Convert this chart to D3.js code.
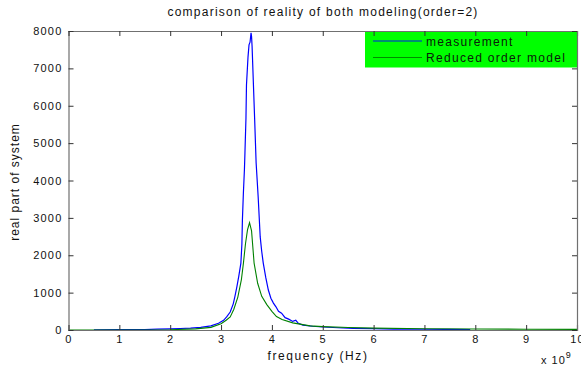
<!DOCTYPE html>
<html>
<head>
<meta charset="utf-8">
<script src="https://cdn.jsdelivr.net/npm/d3@7"></script>
<style>
  body { margin: 0; background: #fff; }
  text { font-family: "Liberation Sans", Arial, sans-serif; }
</style>
</head>
<body>
<div id="chart"></div>
<script>

// frequency in GHz (axis shows x 10^9)
var measFreq = [0.5, 1.0, 1.5, 1.75, 2.0, 2.2, 2.4, 2.6, 2.8, 2.95, 3.05, 3.11, 3.18, 3.24, 3.27, 3.31, 3.35, 3.39,
    3.41, 3.42, 3.44, 3.46, 3.47, 3.49, 3.50, 3.53, 3.55, 3.57, 3.59, 3.60, 3.61, 3.63, 3.66, 3.69, 3.73, 3.77,
    3.80, 3.83, 3.88, 3.93, 3.98, 4.03, 4.08, 4.13, 4.19, 4.22, 4.26, 4.33, 4.41, 4.47, 4.52, 4.61, 4.8, 5.0,
    5.3, 5.6, 6.0, 6.4, 7.0, 7.5, 7.9];
var measValue = [5, 8, 10, 25, 30, 40, 50, 70, 110, 180, 260, 350, 480, 700, 880, 1150, 1450, 1790,
    2300, 2940, 3690, 4300, 4740, 5670, 6555, 7300, 7630, 7700, 7950, 7850, 7600, 6820, 5670, 4470, 3560, 2490,
    2100, 1790, 1400, 1070, 850, 720, 620, 500, 450, 400, 330, 290, 230, 260, 180, 130, 100, 80,
    60, 45, 35, 25, 20, 15, 12];

var modelFreq = [0, 1, 2, 2.5, 2.8, 3.0, 3.1, 3.18, 3.25, 3.33, 3.40, 3.44, 3.48, 3.52, 3.56, 3.60, 3.65, 3.72,
    3.80, 3.90, 4.0, 4.09, 4.2, 4.41, 4.75, 5.0, 5.5, 6, 7, 8, 9, 10];
var modelValue = [0, 2, 8, 30, 70, 170, 260, 350, 550, 880, 1350, 1790, 2300, 2680, 2870, 2650, 1790, 1250,
    900, 680, 500, 360, 280, 190, 110, 90, 65, 50, 35, 28, 22, 18];

var xTicks = [0, 1, 2, 3, 4, 5, 6, 7, 8, 9, 10];
var yTicks = [0, 1000, 2000, 3000, 4000, 5000, 6000, 7000, 8000];
var legendNames = ['measurement', 'Reduced order model'];

var width = 581, height = 365;
var plotLeft = 68.5, plotRight = 577, plotTop = 31, plotBottom = 330;

var x = d3.scaleLinear().domain([0, 10]).range([plotLeft, plotRight]);
var y = d3.scaleLinear().domain([0, 8000]).range([plotBottom, plotTop]);

var svg = d3.select('#chart')
    .append('svg')
    .attr('width', width)
    .attr('height', height)
    .style('display', 'block');

svg.append('rect').attr('width', width).attr('height', height).attr('fill', '#fff');

svg.append('clipPath').attr('id', 'clip')
    .append('rect')
    .attr('x', plotLeft).attr('y', plotTop)
    .attr('width', plotRight - plotLeft).attr('height', plotBottom - plotTop);

var line = d3.line()
    .x((d) => x(d[0]))
    .y((d) => y(d[1]));

// legend box sits behind the curves, inside the axes
var legend = svg.append('g');
legend.append('rect')
    .attr('x', 365).attr('y', plotTop + 0.5)
    .attr('width', plotRight - 365).attr('height', 36)
    .attr('fill', '#00ff00');

var lines = svg.append('g').attr('clip-path', 'url(#clip)');

lines.append('path')
    .attr('d', line(d3.zip(measFreq, measValue)))
    .attr('fill', 'none')
    .attr('stroke', '#0000ff')
    .attr('stroke-width', 1.2);

lines.append('path')
    .attr('d', line(d3.zip(modelFreq, modelValue)))
    .attr('fill', 'none')
    .attr('stroke', '#008000')
    .attr('stroke-width', 1.1);

// axes, ticks point inward like matlab
var axisColor = '#707070';
var fontSize = '11px';

var xBottom = svg.append('g')
    .attr('transform', 'translate(0,' + plotBottom + ')')
    .call(d3.axisBottom(x).tickValues(xTicks).tickSize(-5).tickPadding(5).tickFormat(d3.format('d')));
var xTop = svg.append('g')
    .attr('transform', 'translate(0,' + plotTop + ')')
    .call(d3.axisTop(x).tickValues(xTicks).tickSize(-5).tickFormat(''));
var yLeft = svg.append('g')
    .attr('transform', 'translate(' + plotLeft + ',0)')
    .call(d3.axisLeft(y).tickValues(yTicks).tickSize(-5).tickPadding(6).tickFormat(d3.format('d')));
var yRight = svg.append('g')
    .attr('transform', 'translate(' + plotRight + ',0)')
    .call(d3.axisRight(y).tickValues(yTicks).tickSize(-5).tickFormat(''));

[xBottom, xTop, yLeft, yRight].forEach(function (g) {
    g.select('.domain').attr('stroke', axisColor).attr('stroke-width', 1.2);
    g.selectAll('.tick line').attr('stroke', '#333');
    g.selectAll('.tick text')
        .attr('fill', '#111')
        .style('font-size', fontSize)
        .style('letter-spacing', '1.2px')
        .style('font-family', '"Liberation Sans", Arial, sans-serif');
});

var legendColors = ['#0000ff', '#008000'];
legendNames.forEach(function (name, i) {
    var ly = 41 + i * 16.5;
    legend.append('line')
        .attr('x1', 373).attr('x2', 422)
        .attr('y1', ly).attr('y2', ly)
        .attr('stroke', legendColors[i])
        .attr('stroke-width', 0.9);
    legend.append('text')
        .attr('x', 426).attr('y', ly + 4.5)
        .attr('fill', '#0a200a')
        .style('font-size', '12px')
        .style('letter-spacing', '1.3px')
        .text(name);
});

// titles
svg.append('text')
    .attr('x', 323).attr('y', 16)
    .attr('text-anchor', 'middle')
    .attr('fill', '#111')
    .style('font-size', '12px')
    .style('letter-spacing', '1.25px')
    .text('comparison of reality of both modeling(order=2)');

svg.append('text')
    .attr('x', 318).attr('y', 360)
    .attr('text-anchor', 'middle')
    .attr('fill', '#111')
    .style('font-size', '12px')
    .style('letter-spacing', '1.6px')
    .text('frequency (Hz)');

svg.append('text')
    .attr('transform', 'translate(19,182) rotate(-90)')
    .attr('text-anchor', 'middle')
    .attr('fill', '#111')
    .style('font-size', '12px')
    .style('letter-spacing', '1px')
    .text('real part of system');

var expo = svg.append('text')
    .attr('x', 541).attr('y', 364)
    .attr('fill', '#111')
    .style('font-size', '11px')
    .style('letter-spacing', '1px');
expo.append('tspan').text('x 10');
expo.append('tspan').attr('dy', -6).style('font-size', '9px').text('9');

</script>
</body>
</html>
